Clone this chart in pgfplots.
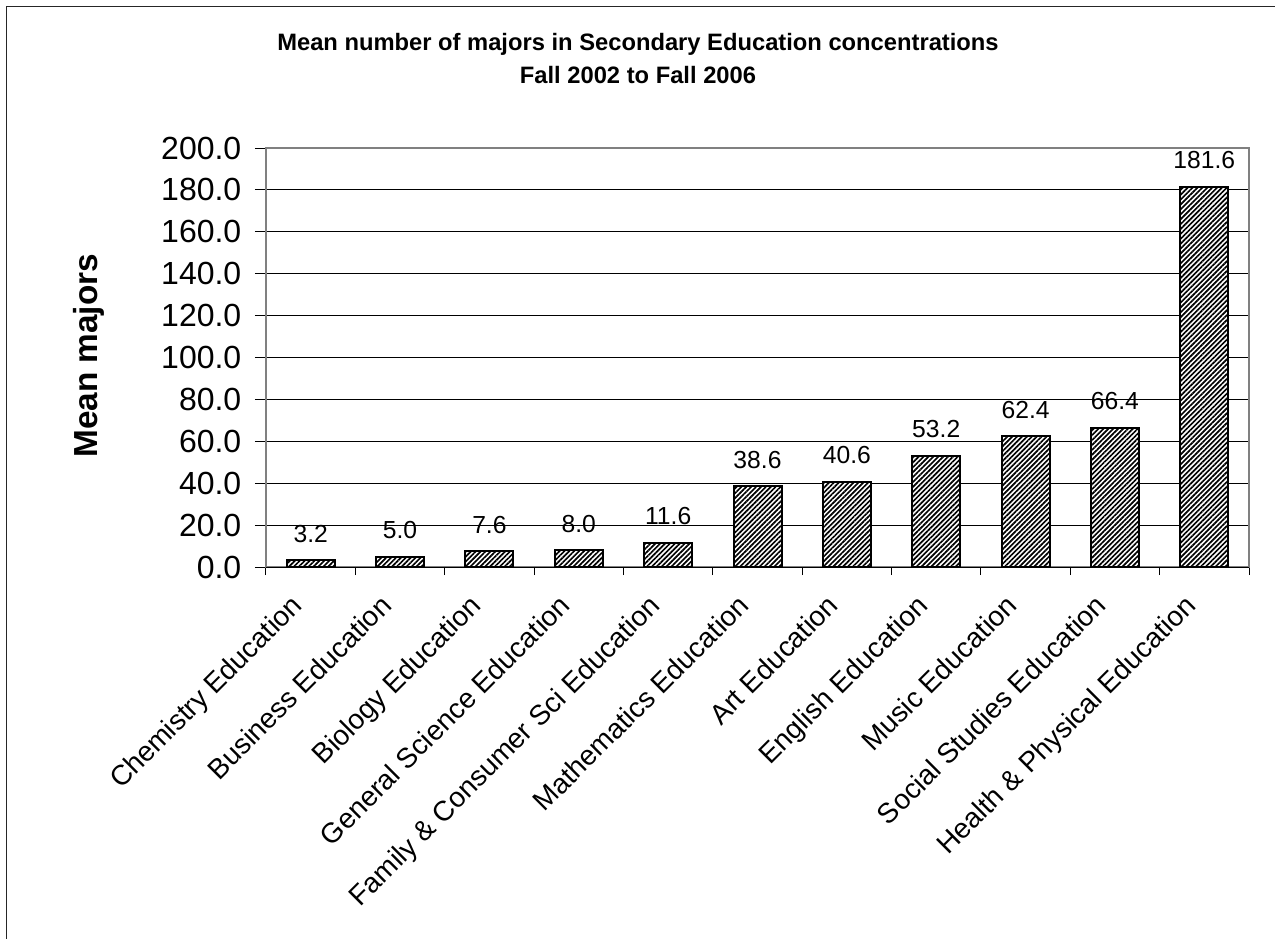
\documentclass[border=0pt]{standalone}
\usepackage{fontspec}
\setmainfont{Liberation Sans}
\usepackage{pgfplots}
\pgfplotsset{compat=1.18}
\usetikzlibrary{patterns.meta}

\begin{document}
\begin{tikzpicture}
\useasboundingbox (0,0) rectangle (956.25pt,-704.25pt);
% outer chart frame (only left and top edges are visible)
\draw[line width=1.3pt, black!85] (4.9pt,-704.25pt) -- (4.9pt,-4.9pt) -- (956.25pt,-4.9pt);
\node[anchor=base, font=\bfseries\fontsize{17.8pt}{21pt}\selectfont, inner sep=0pt]
  at (478.5pt,-37.5pt) {Mean number of majors in Secondary Education concentrations};
\node[anchor=base, font=\bfseries\fontsize{17.8pt}{21pt}\selectfont, inner sep=0pt]
  at (478.5pt,-62.25pt) {Fall 2002 to Fall 2006};

\begin{axis}[
    at={(199.5pt,-425.25pt)}, anchor=south west,
    scale only axis,
    width=737.25pt, height=314.25pt,
    ybar, bar width=36pt,
    xmin=-0.5, xmax=10.5,
    ymin=0, ymax=200,
    xtick={0,...,10},
    xticklabels={Chemistry Education, Business Education, Biology Education,
      General Science Education, Family \& Consumer Sci Education,
      Mathematics Education, Art Education, English Education,
      Music Education, Social Studies Education, Health \& Physical Education},
    minor xtick={-0.5,0.5,...,10.5},
    ytick={0,20,...,200},
    tick pos=left,
    tick align=outside,
    major tick length=8.25pt,
    minor tick length=6pt,
    major x tick style={draw=none},
    tick style={black, line width=0.75pt},
    ymajorgrids,
    grid style={black, line width=0.75pt},
    axis line style={gray, line width=0.9pt},
    /pgf/number format/assume math mode=true,
    yticklabel style={font=\fontsize{24pt}{28pt}\selectfont, xshift=-6.75pt,
      /pgf/number format/.cd, fixed, fixed zerofill, precision=1},
    xticklabel style={font=\fontsize{21pt}{24pt}\selectfont,
      anchor=north east, inner sep=0pt, xshift=-16pt, yshift=-10.8pt, rotate=45},
    ylabel={Mean majors},
    ylabel style={font=\bfseries\fontsize{25pt}{29pt}\selectfont,
      at={(axis description cs:-0.18,0.504)}, anchor=center},
    nodes near coords={\pgfmathprintnumber[fixed, fixed zerofill, precision=1]{\pgfplotspointmeta}},
    every node near coord/.append style={font=\fontsize{18.5pt}{21pt}\selectfont,
      anchor=base, inner sep=0pt, yshift=13.5pt, black},
]
\addplot[draw=black, line width=1.5pt,
    preaction={fill=white},
    pattern={Lines[angle=45, distance=2.6pt, line width=1.25pt]}]
  coordinates {(0,3.2) (1,5.0) (2,7.6) (3,8.0) (4,11.6) (5,38.6)
               (6,40.6) (7,53.2) (8,62.4) (9,66.4) (10,181.6)};
\draw[black, line width=0.75pt] (rel axis cs:0,0) -- (rel axis cs:1,0);
\end{axis}
\end{tikzpicture}
\end{document}
